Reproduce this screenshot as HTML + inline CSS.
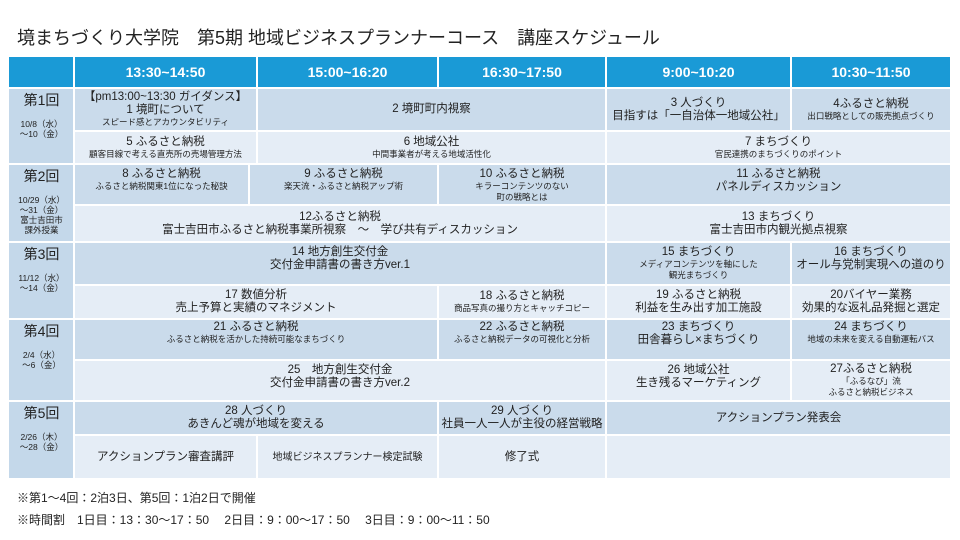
<!DOCTYPE html>
<html><head><meta charset="utf-8"><style>
body{margin:0;width:960px;height:540px;background:#fff;position:relative;overflow:hidden;font-family:"Liberation Sans","Noto Sans CJK JP",sans-serif;color:#222}
.c{position:absolute;display:flex;flex-direction:column;align-items:center;justify-content:center;text-align:center;font-size:11.5px;line-height:13px;box-sizing:border-box}
.h{background:#1a9ad6;color:#fff;font-weight:bold;font-size:14px}
.d{background:#cadbeb}
.l{background:#e5edf6}
.k{background:#c4d8ea}
.s{font-size:8.5px;line-height:11px}
.t{position:absolute;left:17px;top:24px;font-size:18px}
.n{position:absolute;left:17px;font-size:12px}
.lab{position:absolute;left:9px;width:65px;font-size:8.5px;line-height:10px;text-align:center}
.lab b{display:block;font-weight:normal;font-size:14px;line-height:17px}
</style></head><body>
<div class="t">境まちづくり大学院　第5期 地域ビジネスプランナーコース　講座スケジュール</div>
<div class="c h" style="left:9px;top:57px;width:64px;height:30px"></div>
<div class="c h" style="left:75px;top:57px;width:181px;height:30px">13:30~14:50</div>
<div class="c h" style="left:258px;top:57px;width:179px;height:30px">15:00~16:20</div>
<div class="c h" style="left:439px;top:57px;width:166px;height:30px">16:30~17:50</div>
<div class="c h" style="left:607px;top:57px;width:183px;height:30px">9:00~10:20</div>
<div class="c h" style="left:792px;top:57px;width:158px;height:30px">10:30~11:50</div>
<div class="c k" style="left:9px;top:89px;width:64px;height:74px"></div>
<div class="c k" style="left:9px;top:165px;width:64px;height:76px"></div>
<div class="c k" style="left:9px;top:243px;width:64px;height:75px"></div>
<div class="c k" style="left:9px;top:320px;width:64px;height:80px"></div>
<div class="c k" style="left:9px;top:402px;width:64px;height:76px"></div>
<div class="lab" style="top:92px"><b>第1回</b><br>10/8（水）<br>～10（金）</div>
<div class="lab" style="top:168px"><b>第2回</b><br>10/29（水）<br>～31（金）<br>富士吉田市<br>課外授業</div>
<div class="lab" style="top:246px"><b>第3回</b><br>11/12（水）<br>～14（金）</div>
<div class="lab" style="top:323px"><b>第4回</b><br>2/4（水）<br>～6（金）</div>
<div class="lab" style="top:405px"><b>第5回</b><br>2/26（木）<br>～28（金）</div>
<div class="c d" style="left:75px;top:89px;width:181px;height:41px">【pm13:00~13:30 ガイダンス】<br>1 境町について<span class="s">スピード感とアカウンタビリティ</span></div>
<div class="c d" style="left:258px;top:89px;width:347px;height:41px">2 境町町内視察</div>
<div class="c d" style="left:607px;top:89px;width:183px;height:41px">3 人づくり<br>目指すは「一自治体一地域公社」</div>
<div class="c d" style="left:792px;top:89px;width:158px;height:41px">4ふるさと納税<span class="s">出口戦略としての販売拠点づくり</span></div>
<div class="c l" style="left:75px;top:132px;width:181px;height:31px">5 ふるさと納税<span class="s">顧客目線で考える直売所の売場管理方法</span></div>
<div class="c l" style="left:258px;top:132px;width:347px;height:31px">6 地域公社<span class="s">中間事業者が考える地域活性化</span></div>
<div class="c l" style="left:607px;top:132px;width:343px;height:31px">7 まちづくり<span class="s">官民連携のまちづくりのポイント</span></div>
<div class="c d" style="left:75px;top:165px;width:173px;height:39px;justify-content:flex-start;padding-top:3px">8 ふるさと納税<span class="s">ふるさと納税関東1位になった秘訣</span></div>
<div class="c d" style="left:250px;top:165px;width:187px;height:39px;justify-content:flex-start;padding-top:3px">9 ふるさと納税<span class="s">楽天流・ふるさと納税アップ術</span></div>
<div class="c d" style="left:439px;top:165px;width:166px;height:39px;justify-content:flex-start;padding-top:3px">10 ふるさと納税<span class="s">キラーコンテンツのない<br>町の戦略とは</span></div>
<div class="c d" style="left:607px;top:165px;width:343px;height:39px;justify-content:flex-start;padding-top:3px">11 ふるさと納税<br>パネルディスカッション</div>
<div class="c l" style="left:75px;top:206px;width:530px;height:35px">12ふるさと納税<br>富士吉田市ふるさと納税事業所視察　～　学び共有ディスカッション</div>
<div class="c l" style="left:607px;top:206px;width:343px;height:35px">13 まちづくり<br>富士吉田市内観光拠点視察</div>
<div class="c d" style="left:75px;top:243px;width:530px;height:41px;justify-content:flex-start;padding-top:3px">14 地方創生交付金<br>交付金申請書の書き方ver.1</div>
<div class="c d" style="left:607px;top:243px;width:183px;height:41px">15 まちづくり<span class="s">メディアコンテンツを軸にした<br>観光まちづくり</span></div>
<div class="c d" style="left:792px;top:243px;width:158px;height:41px;justify-content:flex-start;padding-top:3px">16 まちづくり<br>オール与党制実現への道のり</div>
<div class="c l" style="left:75px;top:286px;width:362px;height:32px">17 数値分析<br>売上予算と実績のマネジメント</div>
<div class="c l" style="left:439px;top:286px;width:166px;height:32px">18 ふるさと納税<span class="s">商品写真の撮り方とキャッチコピー</span></div>
<div class="c l" style="left:607px;top:286px;width:183px;height:32px">19 ふるさと納税<br>利益を生み出す加工施設</div>
<div class="c l" style="left:792px;top:286px;width:158px;height:32px">20バイヤー業務<br>効果的な返礼品発掘と選定</div>
<div class="c d" style="left:75px;top:320px;width:362px;height:39px;justify-content:flex-start;padding-top:1px">21 ふるさと納税<span class="s">ふるさと納税を活かした持続可能なまちづくり</span></div>
<div class="c d" style="left:439px;top:320px;width:166px;height:39px;justify-content:flex-start;padding-top:1px">22 ふるさと納税<span class="s">ふるさと納税データの可視化と分析</span></div>
<div class="c d" style="left:607px;top:320px;width:183px;height:39px;justify-content:flex-start;padding-top:1px">23 まちづくり<br>田舎暮らし×まちづくり</div>
<div class="c d" style="left:792px;top:320px;width:158px;height:39px;justify-content:flex-start;padding-top:1px">24 まちづくり<span class="s">地域の未来を変える自動運転バス</span></div>
<div class="c l" style="left:75px;top:361px;width:530px;height:39px;justify-content:flex-start;padding-top:3px">25　地方創生交付金<br>交付金申請書の書き方ver.2</div>
<div class="c l" style="left:607px;top:361px;width:183px;height:39px;justify-content:flex-start;padding-top:3px">26 地域公社<br>生き残るマーケティング</div>
<div class="c l" style="left:792px;top:361px;width:158px;height:39px">27ふるさと納税<span class="s">「ふるなび」流<br>ふるさと納税ビジネス</span></div>
<div class="c d" style="left:75px;top:402px;width:362px;height:32px">28 人づくり<br>あきんど魂が地域を変える</div>
<div class="c d" style="left:439px;top:402px;width:166px;height:32px">29 人づくり<br>社員一人一人が主役の経営戦略</div>
<div class="c d" style="left:607px;top:402px;width:343px;height:32px">アクションプラン発表会</div>
<div class="c l" style="left:75px;top:436px;width:181px;height:42px">アクションプラン審査講評</div>
<div class="c l" style="left:258px;top:436px;width:179px;height:42px;font-size:10px">地域ビジネスプランナー検定試験</div>
<div class="c l" style="left:439px;top:436px;width:166px;height:42px">修了式</div>
<div class="c l" style="left:607px;top:436px;width:343px;height:42px"></div>
<div class="n" style="top:489px">※第1～4回：2泊3日、第5回：1泊2日で開催</div>
<div class="n" style="top:511px">※時間割　1日目：13：30～17：50　 2日目：9：00～17：50　  3日目：9：00～11：50</div>
</body></html>
